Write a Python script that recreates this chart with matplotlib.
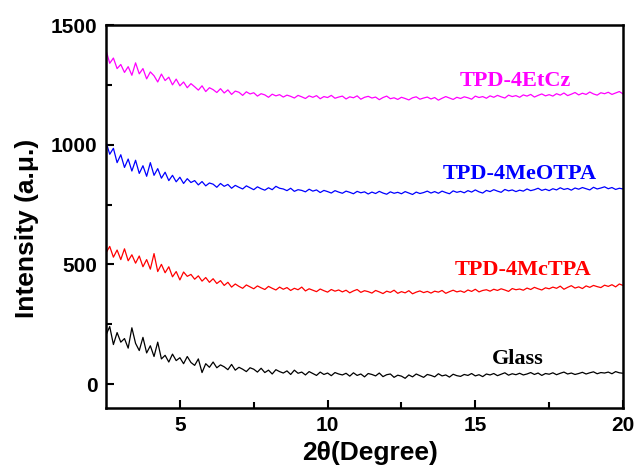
import numpy as np
import matplotlib.pyplot as plt

# 2theta grid, 0.125 deg step from 2.5 to 20
two_theta = np.linspace(2.5, 20.0, 141)

etcz = [
    1395, 1340, 1362, 1318, 1335, 1302, 1326, 1290,
    1342, 1296, 1318, 1275, 1304, 1288, 1262, 1295,
    1268, 1282, 1250, 1274, 1246, 1262, 1238, 1255,
    1242, 1228, 1246, 1222, 1238, 1230, 1218, 1234,
    1216, 1229, 1210, 1224, 1219, 1206, 1221, 1212,
    1217, 1203, 1213, 1208, 1198, 1211, 1204, 1209,
    1199, 1207, 1202, 1195, 1206, 1200, 1193, 1204,
    1198, 1205, 1192, 1201, 1197, 1206, 1194, 1199,
    1203, 1191, 1200, 1196, 1204, 1190, 1198, 1202,
    1195, 1199, 1188, 1197, 1203, 1192, 1196, 1189,
    1198, 1193, 1187, 1196, 1200, 1190, 1195, 1199,
    1191, 1197, 1186, 1194, 1201, 1195, 1189, 1198,
    1193, 1200, 1196, 1190, 1203, 1197, 1201, 1194,
    1204, 1198, 1206, 1200, 1195, 1207, 1201, 1205,
    1198, 1208, 1203, 1210, 1199, 1206, 1212, 1204,
    1209, 1203, 1213, 1207, 1216, 1205, 1211, 1218,
    1208, 1215, 1210, 1220, 1212, 1207, 1217, 1213,
    1219, 1210, 1216, 1222, 1212,
]

meotpa = [
    1012, 960, 985, 925, 958, 905, 940, 890,
    935, 880, 912, 868, 925, 872, 900, 860,
    885, 850, 872, 845, 864, 838, 858, 842,
    850, 832, 846, 828, 840, 835, 822, 838,
    826, 834, 818, 830, 822, 815, 828, 820,
    812, 824, 816, 810, 820, 812, 826, 818,
    815, 808, 818, 805, 812, 809, 803, 814,
    806, 811, 800, 809, 804, 798, 808, 802,
    797, 806, 801, 795, 805, 799, 803, 794,
    802, 796, 805, 798, 793, 803, 797, 801,
    795, 804, 798, 792, 802, 796, 800, 806,
    798, 804, 797, 806, 800, 795, 807, 801,
    805, 799, 808, 802, 811, 803, 798, 809,
    804, 812, 806, 801, 813, 807, 811, 804,
    810, 806, 815, 808, 812, 818, 809, 814,
    808, 816, 811, 820, 813, 817, 810, 819,
    814, 821, 816, 811, 822, 815, 819, 824,
    816, 821, 813, 818, 815,
]

mctpa = [
    548, 575, 530, 560, 520, 565, 515, 540,
    505, 535, 490, 520, 480, 545, 470, 500,
    465, 490, 448, 470, 435, 468, 450, 458,
    438, 452, 430, 445, 425, 440, 420, 432,
    412, 425, 405, 418, 408, 400, 414, 406,
    398, 410, 402, 395, 408, 400, 393, 405,
    396, 403, 391, 400, 394, 405, 389, 398,
    392, 386, 397, 390, 384, 395, 388, 393,
    385, 392, 381, 389, 395, 383, 390, 386,
    380, 391, 385, 378, 388, 383, 392, 379,
    386, 381, 390, 377, 384, 389, 382, 387,
    380, 388, 384, 391, 379, 386, 392, 385,
    389, 383, 393, 387, 396, 385, 391, 394,
    388, 396, 391, 398, 393, 387, 399, 394,
    397, 392, 401, 395, 404, 398, 393, 402,
    398, 405, 400, 409, 396, 404, 411, 401,
    406, 399, 410, 404, 412, 407, 403, 413,
    408, 415, 406, 418, 412,
]

glass = [
    205, 240, 165, 215, 175, 190, 150, 235,
    170, 140, 195, 130, 160, 115, 175, 105,
    120, 92, 125, 98, 110, 85, 115, 90,
    78, 105, 48, 85, 70, 92, 68, 80,
    72, 60, 82, 58, 70, 62, 52, 68,
    62, 50, 66, 48, 58, 42, 60, 52,
    46, 55, 40, 58, 45, 50, 38, 52,
    44, 36, 50, 40, 46, 35, 48, 42,
    38, 45, 33, 47, 36, 42, 30, 44,
    40, 34, 46, 31, 39, 42, 28, 37,
    33, 24, 38, 30, 42, 35, 28, 40,
    36, 30, 43, 34, 38, 29, 41, 35,
    32, 40, 36, 44, 34, 39, 31, 42,
    38, 44, 35, 41, 47, 37, 43, 39,
    45, 38, 42, 48, 40, 46, 36, 44,
    41, 47, 39, 45, 50, 42, 46, 40,
    44, 49, 42, 47, 51, 43, 48, 46,
    50, 43, 52, 47, 45,
]

names = ["TPD-4EtCz", "TPD-4MeOTPA", "TPD-4McTPA", "Glass"]
colors = ["#ff00ff", "#0000ff", "#ff0000", "#000000"]
label_pos = [(16.35, 1267), (16.5, 879), (16.6, 475), (16.45, 104)]

fig = plt.figure(figsize=(6.36, 4.71), dpi=100)
ax = fig.add_axes([0.1667, 0.1338, 0.8129, 0.8131])

for y, c in zip([etcz, meotpa, mctpa, glass], colors):
    ax.plot(two_theta, y, color=c, lw=0.9)

for name, c, (tx, ty) in zip(names, colors, label_pos):
    ax.text(tx, ty, name, color=c, ha="center", va="center",
            fontsize=16, fontweight="bold", family="Liberation Serif")

ax.set_xlim(2.5, 20)
ax.set_ylim(-100, 1500)
ax.set_xticks([5, 10, 15, 20])
ax.set_xticks([7.5, 12.5, 17.5], minor=True)
ax.set_yticks([0, 500, 1000, 1500])
ax.set_yticks([250, 750, 1250], minor=True)

ax.tick_params(which="both", direction="in", width=1.5, pad=6)
ax.tick_params(which="major", length=6)
ax.tick_params(which="minor", length=4)
for s in ax.spines.values():
    s.set_linewidth(1.8)

for lab in ax.get_xticklabels() + ax.get_yticklabels():
    lab.set_fontfamily("Liberation Sans")
    lab.set_fontweight("bold")
    lab.set_fontsize(15)

ax.set_xlabel("2θ(Degree)", fontsize=19, fontweight="bold",
              family="Liberation Sans")
ax.set_ylabel("Intensity (a.μ.)", fontsize=19, fontweight="bold",
              family="Liberation Sans")
ax.xaxis.set_label_coords(0.51, -0.085)
ax.yaxis.set_label_coords(-0.13, 0.47)

fig.savefig("out.png", dpi=100)
